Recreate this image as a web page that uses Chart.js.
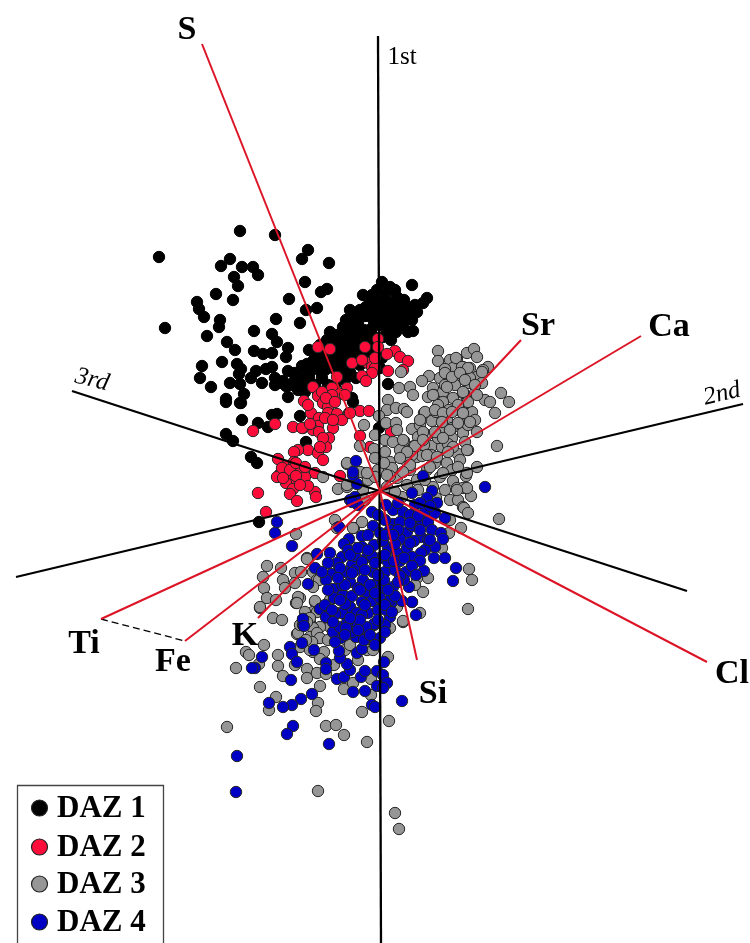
<!DOCTYPE html>
<html><head><meta charset="utf-8"><title>DAZ biplot</title>
<style>html,body{margin:0;padding:0;background:#fff}canvas{display:block}</style>
<script src="https://cdn.jsdelivr.net/npm/chart.js@4"></script></head>
<body><canvas id="c" width="750" height="943"></canvas>
<script>
const daz1=[[240,231],[275,235],[159,257],[230,259],[221,266],[242,267],[253,267],[258,275],[234,277],[238,286],[216,294],[233,300],[197,302],[199,309],[204,317],[308,250],[302,259],[329,263],[305,282],[327,289],[321,292],[289,299],[317,308],[306,310],[276,319],[300,323],[220,320],[219,327],[165,328],[254,331],[272,334],[207,336],[227,342],[277,342],[235,350],[288,348],[286,357],[254,351],[263,354],[272,353],[309,350],[222,362],[202,366],[237,364],[241,369],[239,374],[200,378],[211,387],[230,383],[240,384],[251,378],[256,371],[266,369],[272,367],[262,383],[275,378],[275,385],[283,381],[288,371],[294,373],[302,366],[313,361],[307,364],[309,377],[303,383],[321,372],[244,394],[226,399],[240,403],[288,397],
[382,282],[412,285],[390,287],[386,293],[363,295],[397,297],[427,298],[423,303],[415,305],[417,312],[370,302],[376,300],[384,300],[392,303],[404,300],[410,308],[400,308],[366,307],[373,309],[381,307],[388,310],[395,313],[405,315],[412,320],[359,312],[352,318],[346,320],[343,327],[350,325],[358,322],[365,316],[372,318],[380,315],[388,320],[396,322],[403,325],[408,332],[413,331],[364,330],[372,328],[380,325],[388,330],[396,332],[352,332],[344,335],[336,335],[330,332],[327,340],[335,343],[345,341],[355,340],[365,338],[373,336],[383,337],[391,340],[327,350],[334,352],[342,350],[350,348],[358,350],[366,355],[374,353],[382,358],[322,358],[330,362],[338,360],[346,358],[354,355],[360,365],[380,368],[318,367],[325,370],[333,368],[342,368],[350,372],[356,378],[345,380],[352,398],[353,402],[388,384],[310,372],[322,378],[300,377],[308,370],[295,380],[286,386],[279,383],[315,385],[325,400],[358,330],[351,340],[361,346],[370,345],[376,343],[338,375],[328,385],
[340,345],[320,345],[310,365],[315,355],[290,385],[298,390],[305,392],[318,392],[335,385],[345,350],[356,345],[367,360],[360,310],[350,310],[377,290],[395,290],[372,295],[402,320],
[226,434],[233,441],[251,457],[257,463],[259,522],[242,420],[258,423],[268,427],[272,415],[277,414],[300,416],[306,442],[226,402],[241,403],[379,428]];
const daz2=[[318,347],[330,349],[378,339],[378,347],[365,347],[395,351],[387,354],[400,357],[408,361],[352,363],[368,363],[372,367],[375,368],[372,373],[362,376],[366,381],[388,371],[403,370],[337,377],[332,388],[347,388],[313,387],[340,394],[332,395],[318,396],[304,401],[323,403],[328,407],[360,411],[369,411],[328,413],[337,414],[349,413],[311,413],[319,418],[342,420],[318,426],[333,428],[313,430],[319,432],[303,428],[360,436],[329,438],[391,432],[326,447],[308,450],[318,453],[323,460],[370,447],[340,476],[315,473],[315,492],
[253,431],[275,424],[293,427],[302,428],[298,450],[294,452],[278,459],[286,466],[294,462],[280,474],[277,477],[300,472],[290,480],[286,483],[302,482],[305,477],[308,486],[293,489],[290,494],[297,501],[316,497],[258,493],[266,512],[350,413],
[322,392],[326,398],[335,402],[325,418],[333,420],[308,405],[310,424],[323,438],[320,447],[282,468],[290,470],[296,476],[300,485],[283,478],[296,463],[305,467],[362,360],[375,358],[345,395]];
const daz3=[[438,351],[438,361],[450,360],[457,359],[467,353],[474,349],[477,357],[453,368],[463,367],[470,368],[488,367],[483,370],[429,376],[440,378],[422,381],[450,377],[460,375],[477,377],[482,383],[399,388],[410,387],[413,395],[401,372],[433,388],[455,385],[468,383],[428,397],[434,395],[443,392],[453,398],[463,393],[475,393],[485,400],[490,402],[501,393],[509,402],[495,413],[497,446],[388,400],[387,410],[396,408],[404,409],[407,412],[379,416],[364,425],[386,423],[396,423],[397,430],[412,429],[424,413],[432,421],[443,402],[457,410],[472,412],[447,420],[460,423],[475,420],[420,425],[418,437],[427,435],[452,438],[463,433],[477,432],[375,435],[385,440],[393,442],[404,441],[414,446],[432,446],[442,447],[458,454],[468,450],[360,446],[374,449],[385,452],[401,458],[417,457],[435,463],[447,463],[460,460],[477,467],[390,462],[392,468],[410,470],[427,470],[440,477],[453,481],[347,464],[338,489],[323,477],[347,487],[364,473],[368,480],[378,470],[375,477],[387,487],[407,485],[433,487],[457,488],[463,488],[471,496],[363,490],[347,485],[347,463],[360,472],[367,473],[335,520],[337,528],[296,534],[307,558],[354,528],[362,522],
[445,369],[470,378],[445,385],[438,405],[449,410],[466,403],[436,412],[452,428],[441,431],[468,425],[431,455],[422,456],[412,455],[424,445],[438,438],[448,444],[407,462],[397,478],[417,480],[425,480],[445,490],[452,470],[466,476],[402,497],[450,500],[458,500],[390,476],[395,492],[436,498],[400,450],[384,463],[375,458],[365,500],[418,490],
[456,358],[462,367],[468,368],[445,373],[452,377],[460,373],[465,380],[482,372],[475,385],[447,387],[433,395],[463,392],[468,402],[458,405],[477,395],[425,412],[435,410],[443,413],[452,412],[463,413],[420,420],[442,422],[450,430],[458,423],[470,422],[423,432],[435,432],[443,438],[403,440],[415,446],[423,440],[453,447],[465,442],[407,452],[427,455],[437,457],[448,452],[467,450],[400,458],[410,465],[430,467],[458,467],[467,473],[403,472],[443,473],[467,488],[457,490],[463,507],[387,475],
[464,508],[468,513],[461,528],[499,519],[469,569],[472,580],[468,609],[428,578],[417,578],[423,592],[415,585],[353,528],[307,559],[313,572],[317,580],[315,602],[300,598],[442,548],[449,533],[450,520],[403,622],[420,613],[397,607],[385,604],[355,548],[340,587],[330,600],[313,612],[310,622],[330,627],[320,627],
[267,566],[281,568],[263,577],[283,580],[295,573],[301,572],[264,588],[285,588],[295,583],[267,598],[276,600],[260,608],[298,597],[296,603],[315,601],[305,612],[319,580],[313,587],[317,612],[310,618],[319,638],[313,628],[310,637],[297,634],
[260,607],[273,618],[282,620],[297,603],[264,645],[246,652],[249,655],[259,664],[278,655],[278,666],[236,668],[283,676],[295,665],[260,687],[307,669],[307,678],[317,673],[320,686],[326,674],[276,697],[269,710],[318,703],[316,711],[227,727],[326,726],[336,725],[344,735],[367,742],[389,721],[362,712],[318,791],[395,813],[399,829],[344,689],[353,683],[371,679],[371,695],[388,657],[403,621],[390,628],[313,652],[324,652],[320,659],[298,633],[307,622],[317,633],[320,638],[328,640],[300,647],[310,650],[367,650],[373,650],[350,630],[358,660],[383,603],[336,640],[345,650],[350,645],[300,625],[312,642],[334,665],[306,640]];
const daz4=[[290,647],[292,654],[297,662],[262,657],[255,668],[252,668],[302,643],[314,650],[303,619],[303,625],[320,609],[326,617],[291,680],[312,694],[301,699],[292,705],[283,707],[269,703],[293,726],[287,734],[329,744],[237,756],[236,792],[402,701],[372,705],[375,707],[365,691],[353,692],[337,679],[344,677],[361,677],[365,671],[350,670],[347,664],[326,663],[326,669],[340,658],[339,651],[357,653],[362,649],[356,637],[367,638],[341,638],[333,632],[335,642],[374,625],[366,629],[355,622],[344,614],[337,613],[350,607],[357,613],[368,613],[390,617],[380,638],[384,662],[377,671],[383,675],[387,683],[377,686],[383,688],[416,615],[392,602],[412,602],
[485,487],[423,476],[412,493],[432,491],[427,498],[437,503],[357,484],[353,475],[355,497],[350,500],[372,512],[393,510],[403,512],[410,515],[425,512],[435,513],[445,518],[393,524],[373,526],[339,527],[407,532],[422,522],[428,522],[432,530],[441,533],[443,539],[421,537],[400,539],[380,533],[390,530],[349,539],[344,544],[362,536],[362,547],[374,545],[388,548],[407,548],[435,547],[425,550],[421,553],[412,557],[397,553],[330,553],[317,554],[342,557],[367,557],[380,558],[434,558],[445,558],[456,568],[453,581],[424,571],[420,561],[337,563],[328,563],[315,568],[352,565],[346,572],[356,570],[332,574],[340,568],[373,572],[385,572],[406,572],[395,570],[326,580],[350,582],[363,580],[377,583],[308,584],[409,587],[393,587],[333,589],[343,595],[352,596],[367,592],[382,588],[334,598],[372,601],[390,600],[412,602],[402,601],[350,607],[320,609],[342,613],[357,613],[326,617],[335,614],[303,619],[355,623],[374,624],[366,627],[340,627],[347,623],[304,626],[277,522],[275,533],[292,546],[356,461],[353,472],[358,505],[352,502],
[415,505],[418,516],[400,522],[412,526],[385,520],[383,541],[395,544],[414,541],[428,540],[372,556],[355,556],[348,550],[400,561],[412,566],[388,562],[375,563],[362,562],[404,580],[384,580],[370,585],[358,588],[342,585],[395,596],[380,598],[362,602],[345,604],[378,610],[362,615],[385,625],[352,632],[364,640],[346,628],[386,610],[398,530],[420,530],
[386,505],[398,503],[420,503],[430,506],[378,515],[410,523],[385,535],[368,535],[410,543],[430,540],[393,535],[350,555],[358,548],[368,550],[385,555],[394,561],[404,558],[416,575],[400,576],[388,590],[398,582],[378,575],[365,570],[345,585],[338,578],[328,590],[322,572],[360,590],[352,573],[340,600],[325,605],[332,610],[365,605],[375,593],[385,605],[360,620],[378,620],[350,618],[333,622],[392,612],[370,635],[345,635],[358,630],[385,632],[375,645]];

const seriesNames=['DAZ 1','DAZ 2','DAZ 3','DAZ 4'];
const seriesColors=['#000000','#ff0d3a','#969696','#0000c4'];
const centre=[380,491];
const axisEnds={'1st':[[378,36],[381,943]],'2nd':[[16,577],[743,404]],'3rd':[[72,391],[687,591]]};
const loadingEnds=[[202,44],[521,340],[641,336],[707,662],[417,660],[258,618],[185,641],[101,619]];
const tieLine=[[101,619],[185,641]];
const elementLabels=[['S',187,30],['Sr',538,326],['Ca',669,327],['Cl',732,674],['Si',433,694],['K',245,636],['Fe',173,662],['Ti',84,644]];
const axisLabels=[['1st',402,57,0,'normal'],['2nd',722,394,-13,'italic'],['3rd',92,380,14,'italic']];

const pts=a=>a.map(p=>({x:p[0],y:p[1]}));
const scatter=(i,o)=>({label:seriesNames[i],data:pts([daz1,daz2,daz3,daz4][i]),order:o,backgroundColor:seriesColors[i],
  borderColor:i===0?'#000':'#262626',borderWidth:1,pointRadius:5.7,pointHoverRadius:5.7,showLine:false,clip:false});
const line=(a,color,w,o,dash)=>({data:pts(a),showLine:true,borderColor:color,borderWidth:w,pointRadius:0,order:o,borderDash:dash||[],clip:false,fill:false});
const datasets=[scatter(0,8),scatter(1,7),scatter(2,6),scatter(3,5),
  ...Object.values(axisEnds).map(a=>line(a,'#000',2.3,4)),
  line(tieLine,'#000',1.3,3,[7,4]),
  ...loadingEnds.map(e=>line([centre,e],'#dc1426',2,2))];

const annotate={id:'annotate',afterDraw(ch){
  const g=ch.ctx,X=ch.scales.x,Y=ch.scales.y;
  g.save();g.textAlign='center';g.textBaseline='middle';g.fillStyle='#000';
  g.font='bold 34px "Liberation Serif"';
  elementLabels.forEach(l=>g.fillText(l[0],X.getPixelForValue(l[1]),Y.getPixelForValue(l[2])));
  axisLabels.forEach(l=>{g.save();g.translate(X.getPixelForValue(l[1]),Y.getPixelForValue(l[2]));g.rotate(l[3]*Math.PI/180);
    g.font=l[4]+' 25px "Liberation Serif"';g.fillText(l[0],0,0);g.restore();});
  g.strokeStyle='#444';g.lineWidth=1.3;g.fillStyle='#fff';
  g.beginPath();g.rect(17.5,785.5,146,170);g.fill();g.stroke();
  const ys=[808,847,884,922];
  seriesNames.forEach((n,i)=>{
    g.beginPath();g.arc(39.5,ys[i],8,0,2*Math.PI);g.fillStyle=seriesColors[i];g.fill();g.strokeStyle='#222';g.lineWidth=1.2;g.stroke();
    g.fillStyle='#000';g.textAlign='left';g.font='bold 31px "Liberation Serif"';g.fillText(n,57,ys[i]+1);
  });
  g.restore();
}};

new Chart(document.getElementById('c'),{type:'scatter',data:{datasets},plugins:[annotate],options:{
  responsive:false,animation:false,layout:{padding:0,autoPadding:false},
  plugins:{legend:{display:false},tooltip:{enabled:false}},
  scales:{x:{type:'linear',min:0,max:750,display:false},y:{type:'linear',min:0,max:943,reverse:true,display:false}}
}});
</script></body></html>
